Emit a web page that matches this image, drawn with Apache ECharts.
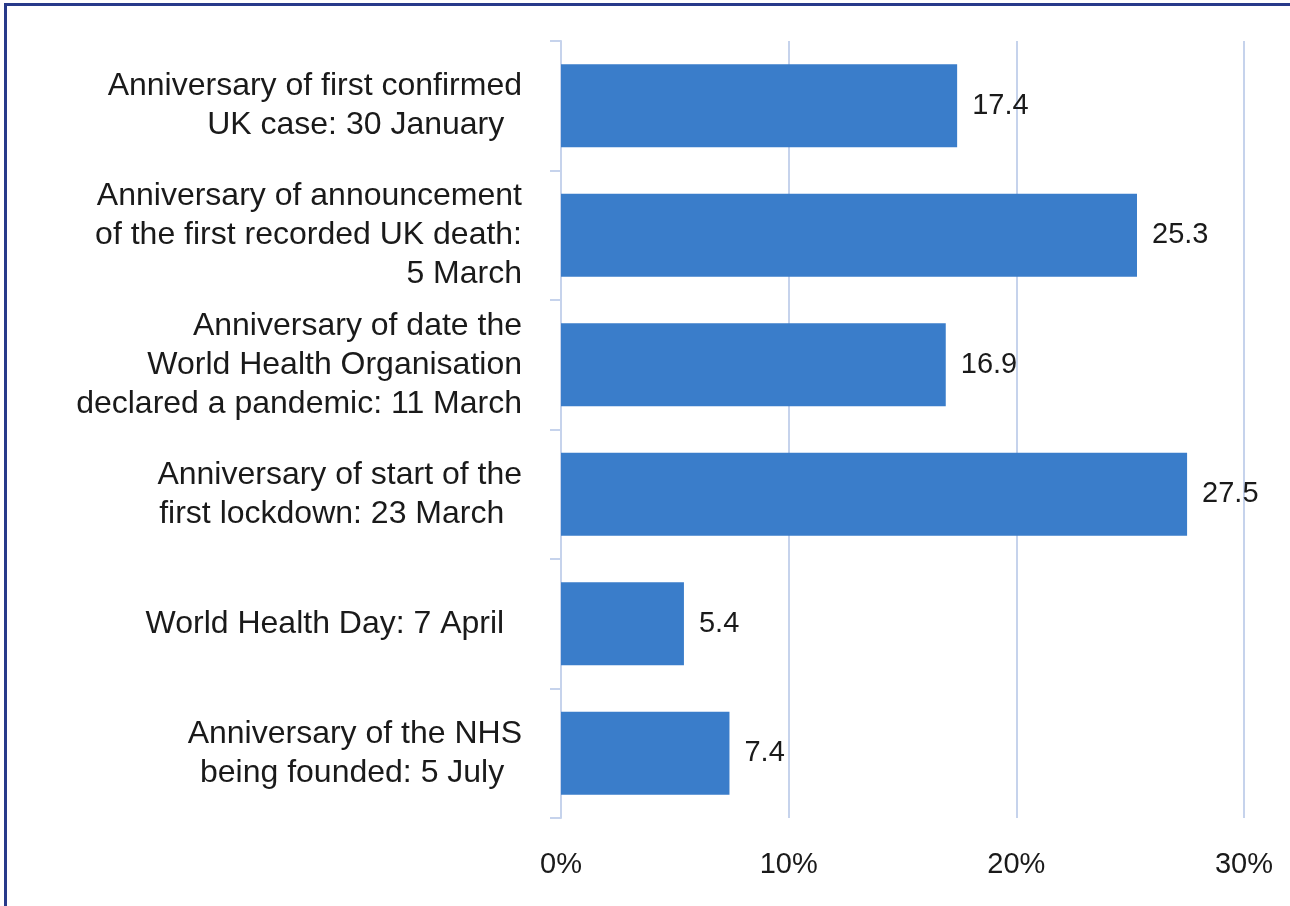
<!DOCTYPE html>
<html>
<head>
<meta charset="utf-8">
<script src="https://cdn.jsdelivr.net/npm/echarts@6/dist/echarts.min.js"></script>
<style>
html, body { margin: 0; padding: 0; background: #fff; }
#main { width: 1290px; height: 906px; }
</style>
</head>
<body>
<div id="main"></div>
<script>
var categories = [
	'Anniversary of first confirmed\nUK case: 30 January  ',
	'Anniversary of announcement\nof the first recorded UK death:\n5 March',
	'Anniversary of date the\nWorld Health Organisation\ndeclared a pandemic: 11 March',
	'Anniversary of start of the\nfirst lockdown: 23 March  ',
	'World Health Day: 7 April  ',
	'Anniversary of the NHS\nbeing founded: 5 July  '
];
var values = [17.4, 25.3, 16.9, 27.5, 5.4, 7.4];
var xTicks = [0, 10, 20, 30];

var gridColor = '#c6d3ec';
var font = 'Liberation Sans';

var myChart = echarts.init(document.getElementById('main'));
myChart.setOption({
	animation: false,
	grid: {
		left: 561,
		right: 46,
		top: 41,
		bottom: 88
	},
	// frame lines on the left and top
	graphic: [
		{ type: 'rect', shape: { x: 4, y: 3, width: 3, height: 903 }, style: { fill: '#283a8a' } },
		{ type: 'rect', shape: { x: 4, y: 3, width: 1286, height: 3 }, style: { fill: '#283a8a' } }
	],
	xAxis: {
		type: 'value',
		min: xTicks[0],
		max: xTicks[xTicks.length - 1],
		interval: 10,
		axisLine: { show: false },
		axisTick: { show: false },
		splitLine: { lineStyle: { color: gridColor, width: 2 } },
		axisLabel: {
			formatter: '{value}%',
			fontFamily: font,
			fontSize: 29,
			color: '#1a1a1a',
			margin: 32
		}
	},
	yAxis: {
		type: 'category',
		inverse: true,
		data: categories,
		axisLine: { show: true, lineStyle: { color: gridColor, width: 2 } },
		axisTick: { show: true, length: 11, lineStyle: { color: gridColor, width: 2 } },
		axisLabel: {
			fontFamily: font,
			fontSize: 32,
			lineHeight: 39,
			color: '#1a1a1a',
			margin: 39,
			align: 'right'
		}
	},
	series: [{
		type: 'bar',
		data: values,
		barCategoryGap: '36%',
		itemStyle: { color: '#3a7dca' },
		label: {
			show: true,
			position: 'right',
			distance: 15,
			fontFamily: font,
			fontSize: 29,
			color: '#1a1a1a'
		}
	}]
});
</script>
</body>
</html>
